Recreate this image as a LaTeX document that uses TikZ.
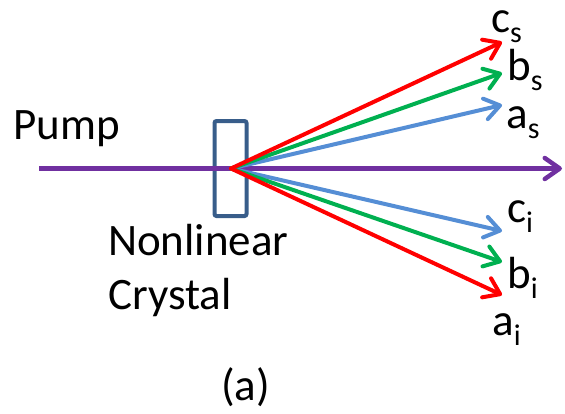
\documentclass[tikz,border=0pt]{standalone}
\usepackage{fontspec}
\setmainfont{Carlito}
\usetikzlibrary{arrows.meta}
\definecolor{pumpviolet}{RGB}{112,48,160}
\definecolor{beamred}{RGB}{255,0,0}
\definecolor{beamgreen}{RGB}{0,176,80}
\definecolor{beamblue}{RGB}{85,142,213}
\definecolor{crystalblue}{RGB}{56,93,138}
\newcommand\modelabel[2]{#1\raisebox{-10pt}{\fontsize{30}{30}\selectfont #2}}
\begin{document}
\begin{tikzpicture}[x=1pt,y=-1pt,
  lbl/.style={font=\fontsize{45}{54}\selectfont, inner sep=0pt, anchor=base west},
  beam/.style={line width=4pt, line cap=round, line join=round,
    -{Straight Barb[length=15pt,width=21pt,round]}},
  crystalbox/.style={draw=crystalblue, line width=4pt, rounded corners=2pt,
    minimum width=32pt, minimum height=95pt, inner sep=0pt}]
  \useasboundingbox (0,0) rectangle (565,413);
  % nonlinear crystal
  \node[crystalbox] (crystal) at (230.5,168.5) {};
  % pump beam
  \coordinate (pin) at (39,168.5);
  \coordinate (pout) at (562,168.5);
  \coordinate (o) at (231,168.5);
  \draw[beam, draw=pumpviolet, line width=4.5pt, line cap=butt] (pin) -- (pout);
  % output tips
  \coordinate (cs) at (502,42);
  \coordinate (bs) at (502,73);
  \coordinate (as) at (502,105);
  \coordinate (ci) at (502,231);
  \coordinate (bi) at (502,262);
  \coordinate (ai) at (502,295);
  \draw[beam, draw=beamblue] (o) -- (as);
  \draw[beam, draw=beamblue] (o) -- (ci);
  \draw[beam, draw=beamgreen] (o) -- (bs);
  \draw[beam, draw=beamgreen] (o) -- (bi);
  \draw[beam, draw=beamred] (o) -- (cs);
  \draw[beam, draw=beamred] (o) -- (ai);
  % labels
  \node[lbl] (tpump) at (13,139) {Pump};
  \node[lbl] (tnon) at (108,255) {Nonlinear};
  \node[lbl] (tcry) at (108,309) {Crystal};
  \node[lbl] (lcs) at (491,32) {\modelabel{c}{s}};
  \node[lbl] (lbs) at (507,80) {\modelabel{b}{s}};
  \node[lbl] (las) at (506,128) {\modelabel{a}{s}};
  \node[lbl] (lci) at (507,222) {\modelabel{c}{i}};
  \node[lbl] (lbi) at (507,288) {\modelabel{b}{i}};
  \node[lbl] (lai) at (492,335) {\modelabel{a}{i}};
  \node[lbl] (cap) at (221,400) {(a)};
\end{tikzpicture}
\end{document}
